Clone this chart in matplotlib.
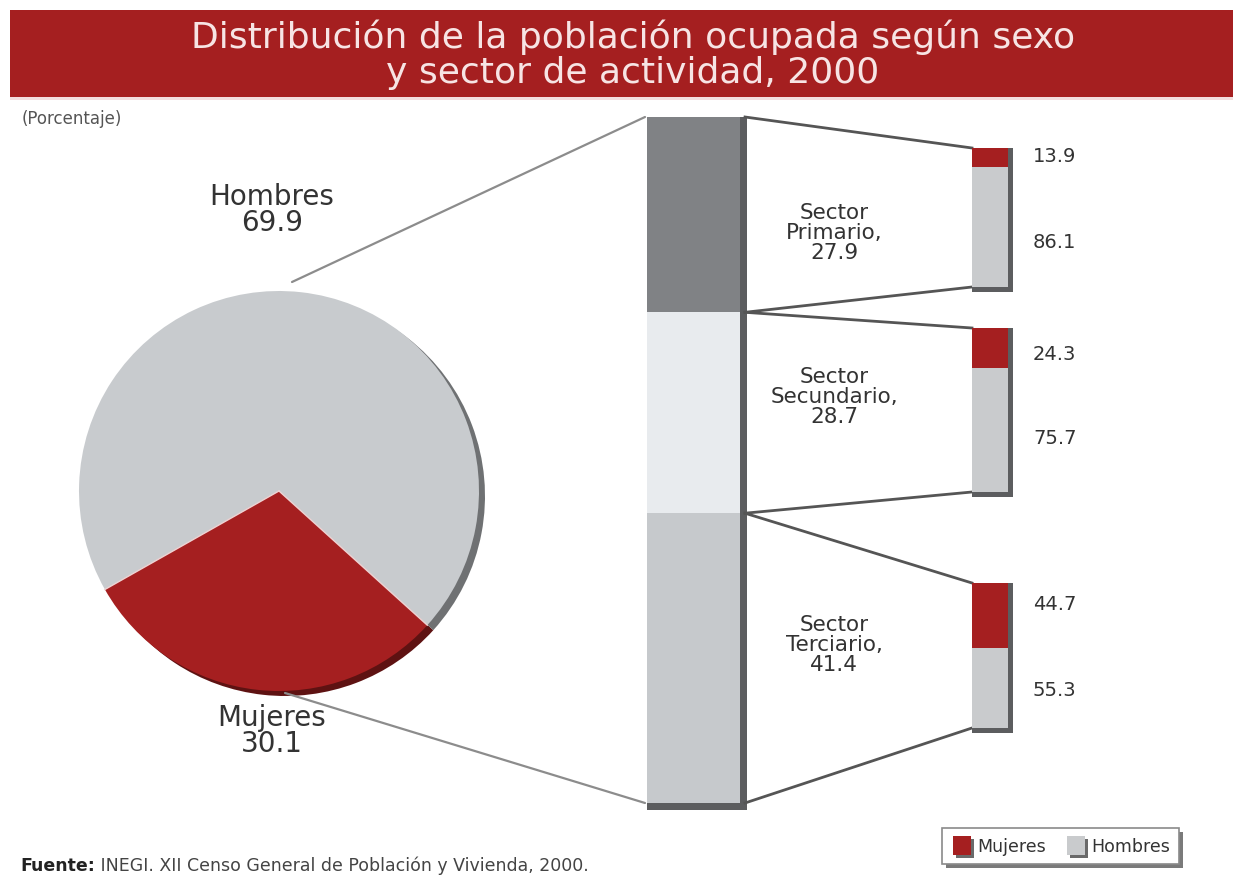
import matplotlib
matplotlib.use('Agg')
import matplotlib.pyplot as plt
import numpy as np
from matplotlib.patches import Rectangle

# ---------------- data ----------------
sexo_labels = ['Mujeres', 'Hombres']
sexo_values = [30.1, 69.9]
sector_labels = ['Sector\nPrimario,', 'Sector\nSecundario,', 'Sector\nTerciario,']
sector_values = [27.9, 28.7, 41.4]
mujeres_pct = [13.9, 24.3, 44.7]
hombres_pct = [86.1, 75.7, 55.3]

title = 'Distribución de la población ocupada según sexo\ny sector de actividad, 2000'
subtitle = '(Porcentaje)'
source_bold = 'Fuente:'
source_rest = ' INEGI. XII Censo General de Población y Vivienda, 2000.'

# ---------------- style ----------------
RED = '#a51f20'
RED_DARK = '#5e1212'
GRAY_H = '#c8cbce'
SECTOR_COLORS = ['#808285', '#e8ebee', '#c6c9cc']
SMALL_GRAY = '#c9cbcd'
SHADOW = '#5c5d5f'
TXT = '#333333'

W, H = 1233, 875
fig = plt.figure(figsize=(W / 100, H / 100), dpi=100)
ax = fig.add_axes([0, 0, 1, 1])


def Y(y):
    return H - y


# title banner
ax.add_patch(Rectangle((10, Y(97)), W - 10, 87, facecolor=RED, edgecolor='none', zorder=1))
ax.add_patch(Rectangle((10, Y(100)), W - 10, 3, facecolor='#f3dede', edgecolor='none', zorder=0))
ax.text(633, Y(55), title, ha='center', va='center', fontsize=26, color='#f7e4e4',
        linespacing=1.05, zorder=2)
ax.text(22, Y(119), subtitle, ha='left', va='center', fontsize=12, color='#555555')

# ---------------- pie ----------------
pc = (279, 491)
pr = 200
start = 209.5
# shadow
ax.pie(sexo_values, colors=[RED_DARK, '#6f7173'], startangle=start, counterclock=True,
       center=(pc[0] + 6, Y(pc[1] + 5)), radius=pr, frame=True,
       wedgeprops=dict(linewidth=0))
wedges, _ = ax.pie(sexo_values, colors=[RED, GRAY_H], startangle=start, counterclock=True,
                   center=(pc[0], Y(pc[1])), radius=pr, frame=True,
                   wedgeprops=dict(linewidth=0))
for w in wedges:
    w.set_zorder(4)
# light highlight along the radial edges of the Mujeres wedge
mw = wedges[0]
for th in (mw.theta1, mw.theta2):
    ax.plot([pc[0], pc[0] + pr * np.cos(np.radians(th))],
            [Y(pc[1]), Y(pc[1]) + pr * np.sin(np.radians(th))],
            color='#efd2d2', lw=1.0, zorder=5)

ax.text(272, Y(210), f'{sexo_labels[1]}\n{sexo_values[1]:.1f}', ha='center', va='center',
        fontsize=20, color=TXT, linespacing=0.95)
ax.text(272, Y(731), f'{sexo_labels[0]}\n{sexo_values[0]:.1f}', ha='center', va='center',
        fontsize=20, color=TXT, linespacing=0.95)

# lines from pie to stacked bar
bx0, bx1, btop, bbot = 647, 740, 117, 803
ax.plot([292, bx0 - 2], [Y(282), Y(btop)], color='#8c8c8c', lw=1.6, zorder=2,
        solid_capstyle='round')
ax.plot([285, bx0 - 2], [Y(693), Y(bbot)], color='#8c8c8c', lw=1.6, zorder=2,
        solid_capstyle='round')

# ---------------- big stacked bar ----------------
total = sum(sector_values)
scale = (bbot - btop) / total
seg_edges = [btop]
for v in sector_values:
    seg_edges.append(seg_edges[-1] + v * scale)

ax.add_patch(Rectangle((bx1, Y(bbot + 7)), 7, bbot - btop + 7, facecolor=SHADOW,
                       edgecolor='none', zorder=3))
ax.add_patch(Rectangle((bx0, Y(bbot + 7)), bx1 - bx0 + 7, 7, facecolor=SHADOW,
                       edgecolor='none', zorder=3))
for i, v in enumerate(sector_values):
    ax.bar((bx0 + bx1) / 2, v * scale, width=bx1 - bx0, bottom=Y(seg_edges[i + 1]),
           color=SECTOR_COLORS[i], edgecolor='none', zorder=4)

# ---------------- small bars ----------------
sx0, sx1 = 972, 1008
s_tops = [148, 328, 583]
s_bots = [287, 492, 728]
lab_y = [233, 397, 645]
muj_y = [157, 354, 605]
hom_y = [242, 438, 690]

for i in range(3):
    t, b = s_tops[i], s_bots[i]
    h = b - t
    ax.plot([bx1 + 5, sx0], [Y(seg_edges[i]), Y(t)], color='#555555', lw=2.0, zorder=3)
    ax.plot([bx1 + 5, sx0], [Y(seg_edges[i + 1]), Y(b)], color='#555555', lw=2.0, zorder=3)
    ax.add_patch(Rectangle((sx1, Y(b + 5)), 5, h + 5, facecolor=SHADOW, edgecolor='none',
                           zorder=3))
    ax.add_patch(Rectangle((sx0, Y(b + 5)), sx1 - sx0 + 5, 5, facecolor=SHADOW,
                           edgecolor='none', zorder=3))
    hm = h * mujeres_pct[i] / 100.0
    hh = h * hombres_pct[i] / 100.0
    ax.bar((sx0 + sx1) / 2, hm, width=sx1 - sx0, bottom=Y(t + hm), color=RED,
           edgecolor='none', zorder=4)
    ax.bar((sx0 + sx1) / 2, hh, width=sx1 - sx0, bottom=Y(t + hm + hh), color=SMALL_GRAY,
           edgecolor='none', zorder=4)
    ax.text(834, Y(lab_y[i]), f'{sector_labels[i]}\n{sector_values[i]:.1f}', ha='center',
            va='center', fontsize=15.5, color=TXT, linespacing=0.98, zorder=5)
    ax.text(1033, Y(muj_y[i]), f'{mujeres_pct[i]:.1f}', ha='left', va='center',
            fontsize=14, color=TXT)
    ax.text(1033, Y(hom_y[i]), f'{hombres_pct[i]:.1f}', ha='left', va='center',
            fontsize=14, color=TXT)

# ---------------- legend ----------------
lx, ly, lw_, lh = 942, 828, 237, 36
ax.add_patch(Rectangle((lx + 4, Y(ly + lh + 4)), lw_, lh, facecolor='#7a7a7a',
                       edgecolor='none', zorder=3))
ax.add_patch(Rectangle((lx, Y(ly + lh)), lw_, lh, facecolor='white', edgecolor='#8a8a8a',
                       lw=1.2, zorder=4))
for x, c, name, tx in [(953, RED, sexo_labels[0], 977), (1067, SMALL_GRAY, sexo_labels[1], 1091)]:
    ax.add_patch(Rectangle((x + 3, Y(858)), 18, 19, facecolor='#6a6a6a', edgecolor='none',
                           zorder=5))
    ax.add_patch(Rectangle((x, Y(855)), 18, 19, facecolor=c, edgecolor='none', zorder=6))
    ax.text(tx, Y(847), name, ha='left', va='center', fontsize=12.5, color=TXT, zorder=6)

# ---------------- source ----------------
t1 = ax.text(20, Y(871), source_bold, ha='left', va='baseline', fontsize=12.5,
             fontweight='bold', color='#222222')
ax.annotate(source_rest, xy=(1, 0), xycoords=t1, ha='left', va='bottom',
            fontsize=12.5, color='#444444')

ax.set_xlim(0, W)
ax.set_ylim(0, H)
ax.set_aspect('auto')
ax.axis('off')

fig.savefig('out.png', dpi=100, facecolor='white')
